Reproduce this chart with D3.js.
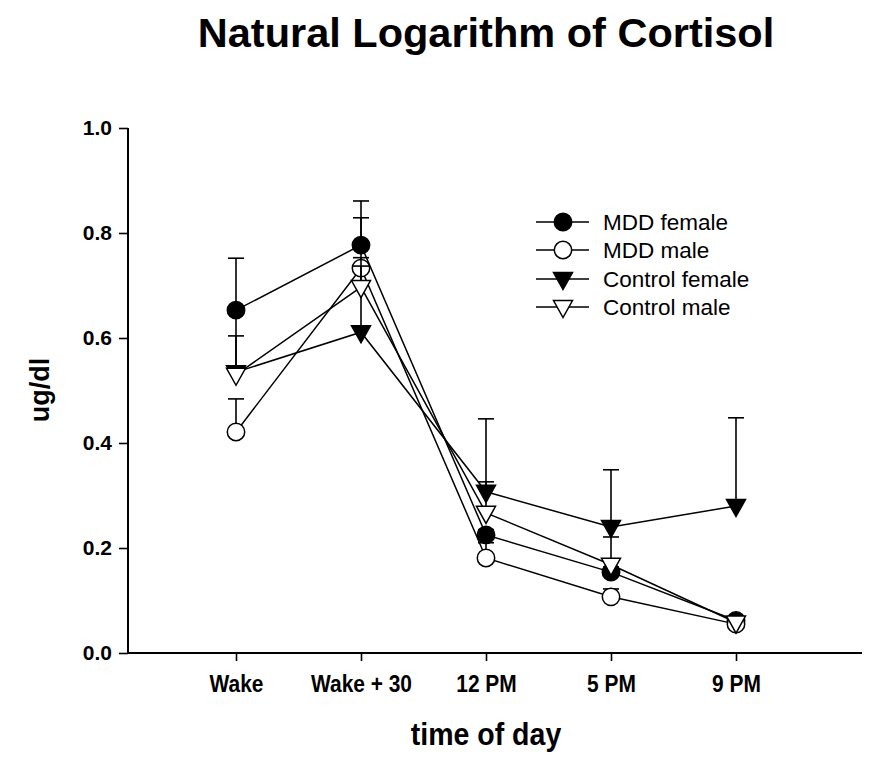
<!DOCTYPE html>
<html><head><meta charset="utf-8">
<script src="https://cdn.jsdelivr.net/npm/d3@7"></script>
<style>body{margin:0;background:#fff}</style>
</head><body>
<svg id="c" width="877" height="759"></svg>
<script>
const categories = ["Wake", "Wake + 30", "12 PM", "5 PM", "9 PM"];
const seriesNames = ["MDD female", "MDD male", "Control female", "Control male"];
const mddFemale = [0.653, 0.777, 0.225, 0.154, 0.062];
const mddFemaleErr = [0.099, 0.084, 0.010, 0.010, 0.006];
const mddMale = [0.421, 0.733, 0.181, 0.107, 0.055];
const mddMaleErr = [0.063, 0.020, 0.029, 0.015, 0.006];
const controlFemale = [0.535, 0.611, 0.307, 0.240, 0.280];
const controlFemaleErr = [0.069, 0.218, 0.139, 0.109, 0.168];
const controlMale = [0.530, 0.697, 0.267, 0.168, 0.058];
const controlMaleErr = [0.120, 0.040, 0.059, 0.053, 0.006];
const yTicks = [0.0, 0.2, 0.4, 0.6, 0.8, 1.0];

const series = [
  {name: seriesNames[0], vals: mddFemale, err: mddFemaleErr, shape: "circle", fill: "#000"},
  {name: seriesNames[1], vals: mddMale, err: mddMaleErr, shape: "circle", fill: "#fff"},
  {name: seriesNames[2], vals: controlFemale, err: controlFemaleErr, shape: "tri", fill: "#000"},
  {name: seriesNames[3], vals: controlMale, err: controlMaleErr, shape: "tri", fill: "#fff"}
];

const svg = d3.select("#c");
const L = 128, R = 862, T = 128, B = 653;
const x = d3.scaleLinear().domain([0.136, 6.008]).range([L, R]);
const y = d3.scaleLinear().domain([0, 1]).range([B, T]);
const font = "Arial, 'Liberation Sans', sans-serif";

svg.append("text").attr("x", 486).attr("y", 47).attr("text-anchor", "middle")
  .attr("font-family", font).attr("font-weight", "bold").attr("font-size", 41.5)
  .text("Natural Logarithm of Cortisol");

// axes
const yAxis = svg.append("g").attr("transform", `translate(${L},0)`)
  .call(d3.axisLeft(y).tickValues(yTicks).tickFormat(d3.format(".1f")).tickSize(9).tickPadding(7));
const xAxis = svg.append("g").attr("transform", `translate(0,${B})`)
  .call(d3.axisBottom(x).tickValues(categories.map((c, i) => i + 1))
    .tickFormat((d, i) => categories[i]).tickSize(8).tickPadding(15));
[yAxis, xAxis].forEach(g => {
  g.select(".domain").attr("stroke", "#000").attr("stroke-width", 2);
  g.selectAll(".tick line").attr("stroke", "#000").attr("stroke-width", 1.6);
  g.selectAll("text").attr("fill", "#000").attr("font-weight", "bold");
});
yAxis.select(".domain").attr("d", `M0,${T}V${B}`);
xAxis.select(".domain").attr("d", `M${L},0H${R}`);
yAxis.selectAll("text").attr("font-family", font).attr("font-size", 21);
xAxis.selectAll("text").attr("font-family", font).attr("font-size", 23)
  .attr("transform", "scale(0.91,1)");

svg.append("text").attr("transform", `translate(49,390) rotate(-90)`).attr("text-anchor", "middle")
  .attr("font-family", font).attr("font-weight", "bold").attr("font-size", 27).text("ug/dl");
svg.append("text").attr("transform", "translate(486,745) scale(0.92,1)").attr("text-anchor", "middle")
  .attr("font-family", font).attr("font-weight", "bold").attr("font-size", 31).text("time of day");

function marker(g, s, cx, cy) {
  if (s.shape === "circle") {
    g.append("circle").attr("cx", cx).attr("cy", cy).attr("r", 8.7)
      .attr("fill", s.fill).attr("stroke", "#000").attr("stroke-width", 1.5);
  } else {
    const w = 9.5, h = 17;
    g.append("path").attr("d", `M${cx - w},${cy - h * 0.38}L${cx + w},${cy - h * 0.38}L${cx},${cy + h * 0.62}Z`)
      .attr("fill", s.fill).attr("stroke", "#000").attr("stroke-width", 1.5).attr("stroke-linejoin", "miter");
  }
}

const plot = svg.append("g");
const line = d3.line().x((d, i) => x(i + 1)).y(d => y(d));
series.forEach(s => {
  const g = plot.append("g");
  // error bars (upper)
  s.vals.forEach((v, i) => {
    const cx = x(i + 1), y0 = y(v), y1 = y(v + s.err[i]);
    g.append("line").attr("x1", cx).attr("x2", cx).attr("y1", y0).attr("y2", y1)
      .attr("stroke", "#000").attr("stroke-width", 1.6);
    g.append("line").attr("x1", cx - 8).attr("x2", cx + 8).attr("y1", y1).attr("y2", y1)
      .attr("stroke", "#000").attr("stroke-width", 1.6);
  });
  g.append("path").attr("d", line(s.vals)).attr("fill", "none")
    .attr("stroke", "#000").attr("stroke-width", 1.5);
  s.vals.forEach((v, i) => marker(g, s, x(i + 1), y(v)));
});

// legend
const leg = svg.append("g");
const ly = [222, 250, 279, 307];
series.forEach((s, i) => {
  leg.append("line").attr("x1", 536).attr("x2", 589).attr("y1", ly[i]).attr("y2", ly[i])
    .attr("stroke", "#000").attr("stroke-width", 1.5);
  marker(leg, s, 563, ly[i]);
  leg.append("text").attr("x", 603).attr("y", ly[i] + 8).attr("font-family", font)
    .attr("font-size", 22.5).text(s.name);
});
</script>
</body></html>
